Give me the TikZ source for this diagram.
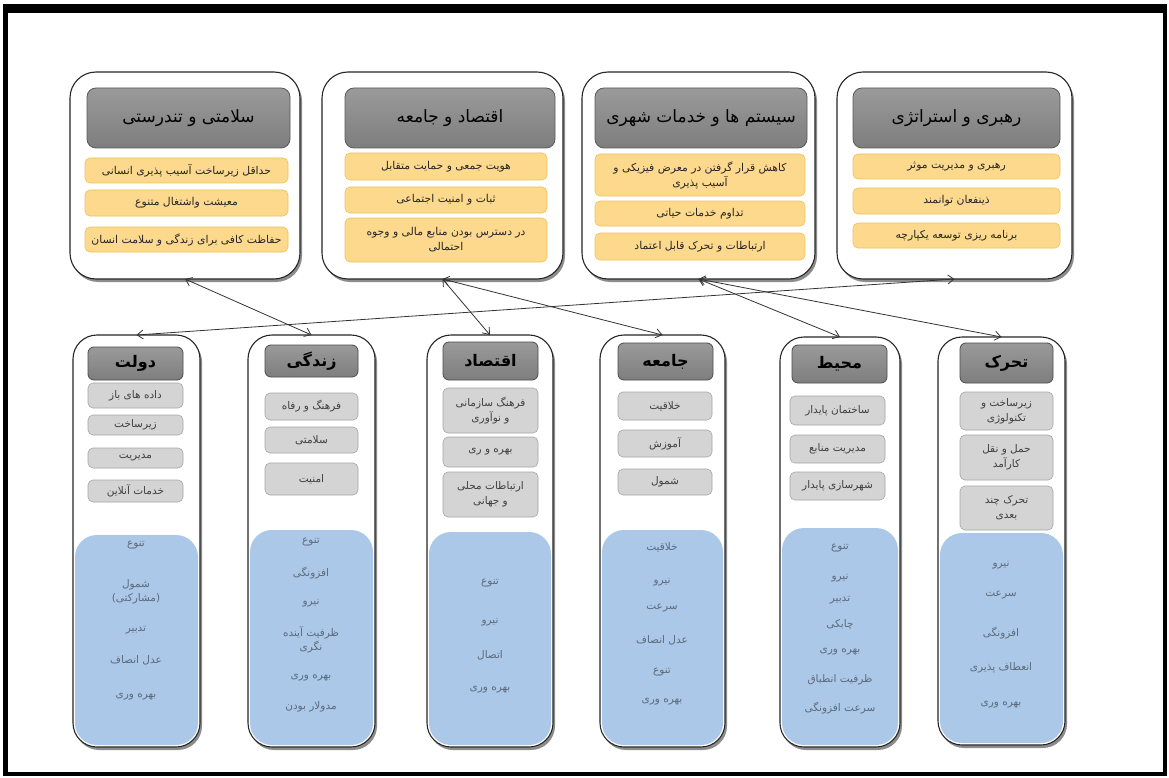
\documentclass[tikz,border=0pt]{standalone}
\usepackage{fontspec}
\usetikzlibrary{shadows,arrows.meta}
\TeXXeTstate=1
\newfontfamily\fa[Script=Arabic]{DejaVu Sans}
\definecolor{hdrA}{HTML}{9A9A9A}
\definecolor{hdrB}{HTML}{7E7E7E}
\definecolor{orgF}{HTML}{FCD98C}
\definecolor{orgD}{HTML}{EEC25A}
\definecolor{gryF}{HTML}{D4D4D4}
\definecolor{gryD}{HTML}{A6A6A6}
\definecolor{bluF}{HTML}{ABC8E8}
\definecolor{bluT}{HTML}{5D6A7C}
\newcommand\fat[1]{\beginR #1\endR}
\newcommand\bx[7]{%
 \pgfmathsetmacro\bxcx{(#2+#4)/2}%
 \pgfmathsetmacro\bxcy{(#3+#5)/2}%
 \pgfmathsetmacro\bxw{#4-#2}%
 \pgfmathsetmacro\bxh{#5-#3}%
 \node[#6, minimum width=\bxw pt, minimum height=\bxh pt] (#1) at (\bxcx,\bxcy) {#7};}
\tikzset{
 base/.style={inner sep=0pt, outer sep=0pt, align=center},
 topbox/.style={base, draw=black!85, line width=1.1pt, fill=white, rounded corners=26pt,
   drop shadow={shadow xshift=2pt, shadow yshift=-3pt, fill=black, opacity=0.45}},
 botbox/.style={base, draw=black!85, line width=1.1pt, fill=white, rounded corners=24pt,
   drop shadow={shadow xshift=2pt, shadow yshift=-3pt, fill=black, opacity=0.45}},
 tophdr/.style={base, draw=black!65, line width=0.8pt, top color=hdrA, bottom color=hdrB,
   rounded corners=9pt, font=\fa\fontsize{17}{20}\selectfont},
 bothdr/.style={base, draw=black!70, line width=0.8pt, top color=hdrA, bottom color=hdrB,
   rounded corners=6pt, font=\fa\bfseries\fontsize{16}{19}\selectfont},
 orgitem/.style={base, draw=orgD, line width=0.6pt, fill=orgF, rounded corners=5pt,
   text=black!85, font=\fa\fontsize{10.8}{15}\selectfont},
 gryitem/.style={base, draw=gryD, line width=0.6pt, fill=gryF, rounded corners=5pt,
   text=black!75, font=\fa\fontsize{10.5}{15}\selectfont},
 bluarea/.style={base, fill=bluF, rounded corners=22pt},
 bt/.style={inner sep=0pt, text=bluT, font=\fa\fontsize{10.5}{14}\selectfont, align=center},
 conn/.style={{Straight Barb[length=6pt,width=9pt]}-{Straight Barb[length=6pt,width=9pt]},
   draw=black!80, line width=0.8pt}
}
\begin{document}
\begin{tikzpicture}[x=1pt,y=-1pt]
\useasboundingbox (0,0) rectangle (1169,778);
\fill[white] (0,0) rectangle (1169,778);
% frame
\fill[black] (3,4) rectangle (1167,13);
\fill[black] (3,4) rectangle (8,776);
\fill[black] (1163,4) rectangle (1167,776);
\fill[black] (3,772) rectangle (1167,776);

% ---------- top boxes ----------
\bx{t1}{70}{72}{300}{279}{topbox}{}
\bx{t1h}{87}{88}{290}{148}{tophdr}{\fat{سلامتی و تندرستی}}
\bx{t1a}{85}{158}{288}{183}{orgitem}{\fat{حداقل زیرساخت آسیب پذیری انسانی}}
\bx{t1b}{85}{190}{288}{216}{orgitem}{\fat{معیشت واشتغال متنوع}}
\bx{t1c}{85}{227}{288}{252}{orgitem}{\fat{حفاظت کافی برای زندگی و سلامت انسان}}

\bx{t2}{322}{72}{563}{279}{topbox}{}
\bx{t2h}{345}{88}{555}{148}{tophdr}{\fat{اقتصاد و جامعه}}
\bx{t2a}{345}{153}{547}{180}{orgitem}{\fat{هویت جمعی و حمایت متقابل}}
\bx{t2b}{345}{187}{547}{213}{orgitem}{\fat{ثبات و امنیت اجتماعی}}
\bx{t2c}{345}{218}{547}{262}{orgitem}{\fat{در دسترس بودن منابع مالی و وجوه}\\\fat{احتمالی}}

\bx{t3}{582}{72}{815}{279}{topbox}{}
\bx{t3h}{595}{88}{807}{148}{tophdr}{\fat{سیستم ها و خدمات شهری}}
\bx{t3a}{595}{154}{805}{196}{orgitem}{\fat{کاهش قرار گرفتن در معرض فیزیکی و}\\\fat{آسیب پذیری}}
\bx{t3b}{595}{201}{805}{226}{orgitem}{\fat{تداوم خدمات حیاتی}}
\bx{t3c}{595}{233}{805}{260}{orgitem}{\fat{ارتباطات و تحرک قابل اعتماد}}

\bx{t4}{837}{72}{1072}{279}{topbox}{}
\bx{t4h}{853}{88}{1060}{148}{tophdr}{\fat{رهبری و استراتژی}}
\bx{t4a}{853}{154}{1060}{179}{orgitem}{\fat{رهبری و مدیریت موثر}}
\bx{t4b}{853}{188}{1060}{214}{orgitem}{\fat{ذینفعان توانمند}}
\bx{t4c}{853}{223}{1060}{248}{orgitem}{\fat{برنامه ریزی توسعه یکپارچه}}

% ---------- bottom columns ----------
% 1
\bx{c1}{73}{335}{200}{747}{botbox}{}
\bx{c1bl}{75}{535}{198}{745}{bluarea}{}
\bx{c1h}{88}{347}{183}{380}{bothdr}{\fat{دولت}}
\bx{c1a}{88}{383}{183}{408}{gryitem}{\fat{داده های باز}}
\bx{c1b}{88}{415}{183}{435}{gryitem}{\fat{زیرساخت}}
\bx{c1c}{88}{448}{183}{468}{gryitem}{\fat{مدیریت}}
\bx{c1d}{88}{480}{183}{502}{gryitem}{\fat{خدمات آنلاین}}
\node[bt] (b1a) at (136,545) {\fat{تنوع}};
\node[bt] (b1b) at (136,592) {\fat{شمول}\\\fat{(مشارکتی)}};
\node[bt] (b1c) at (136,630) {\fat{تدبیر}};
\node[bt] (b1d) at (136,660) {\fat{عدل انصاف}};
\node[bt] (b1e) at (136,697) {\fat{بهره وری}};
% 2
\bx{c2}{248}{335}{375}{747}{botbox}{}
\bx{c2bl}{250}{530}{373}{745}{bluarea}{}
\bx{c2h}{265}{345}{358}{377}{bothdr}{\fat{زندگی}}
\bx{c2a}{265}{393}{358}{420}{gryitem}{\fat{فرهنگ و رفاه}}
\bx{c2b}{265}{427}{358}{453}{gryitem}{\fat{سلامتی}}
\bx{c2c}{265}{463}{358}{495}{gryitem}{\fat{امنیت}}
\node[bt] (b2a) at (311,542) {\fat{تنوع}};
\node[bt] (b2b) at (311,573) {\fat{افزونگی}};
\node[bt] (b2c) at (311,603) {\fat{نیرو}};
\node[bt] (b2d) at (311,640) {\fat{ظرفیت آینده}\\\fat{نگری}};
\node[bt] (b2e) at (311,678) {\fat{بهره وری}};
\node[bt] (b2f) at (311,707) {\fat{مدولار بودن}};
% 3
\bx{c3}{427}{335}{553}{747}{botbox}{}
\bx{c3bl}{429}{532}{551}{745}{bluarea}{}
\bx{c3h}{443}{342}{538}{380}{bothdr}{\fat{اقتصاد}}
\bx{c3a}{443}{388}{538}{433}{gryitem}{\fat{فرهنگ سازمانی}\\\fat{و نوآوری}}
\bx{c3b}{443}{437}{538}{467}{gryitem}{\fat{بهره و ری}}
\bx{c3c}{443}{472}{538}{517}{gryitem}{\fat{ارتباطات محلی}\\\fat{و جهانی}}
\node[bt] (b3a) at (490,583) {\fat{تنوع}};
\node[bt] (b3b) at (490,622) {\fat{نیرو}};
\node[bt] (b3c) at (490,655) {\fat{اتصال}};
\node[bt] (b3d) at (490,690) {\fat{بهره وری}};
% 4
\bx{c4}{600}{335}{725}{747}{botbox}{}
\bx{c4bl}{602}{530}{723}{745}{bluarea}{}
\bx{c4h}{618}{343}{713}{380}{bothdr}{\fat{جامعه}}
\bx{c4a}{618}{392}{712}{420}{gryitem}{\fat{خلاقیت}}
\bx{c4b}{618}{430}{712}{457}{gryitem}{\fat{آموزش}}
\bx{c4c}{618}{469}{712}{495}{gryitem}{\fat{شمول}}
\node[bt] (b4a) at (662,547) {\fat{خلاقیت}};
\node[bt] (b4b) at (662,582) {\fat{نیرو}};
\node[bt] (b4c) at (662,608) {\fat{سرعت}};
\node[bt] (b4d) at (662,640) {\fat{عدل انصاف}};
\node[bt] (b4e) at (662,672) {\fat{تنوع}};
\node[bt] (b4f) at (662,702) {\fat{بهره وری}};
% 5
\bx{c5}{780}{337}{900}{747}{botbox}{}
\bx{c5bl}{782}{528}{898}{745}{bluarea}{}
\bx{c5h}{792}{345}{887}{383}{bothdr}{\fat{محیط}}
\bx{c5a}{790}{396}{885}{425}{gryitem}{\fat{ساختمان پایدار}}
\bx{c5b}{790}{435}{885}{463}{gryitem}{\fat{مدیریت منابع}}
\bx{c5c}{790}{472}{885}{500}{gryitem}{\fat{شهرسازی پایدار}}
\node[bt] (b5a) at (840,548) {\fat{تنوع}};
\node[bt] (b5b) at (840,578) {\fat{نیرو}};
\node[bt] (b5c) at (840,600) {\fat{تدبیر}};
\node[bt] (b5d) at (840,625) {\fat{چابکی}};
\node[bt] (b5e) at (840,652) {\fat{بهره وری}};
\node[bt] (b5f) at (840,680) {\fat{ظرفیت انطباق}};
\node[bt] (b5g) at (840,708) {\fat{سرعت افزونگی}};
% 6
\bx{c6}{938}{337}{1065}{745}{botbox}{}
\bx{c6bl}{940}{533}{1063}{743}{bluarea}{}
\bx{c6h}{960}{343}{1053}{383}{bothdr}{\fat{تحرک}}
\bx{c6a}{960}{392}{1053}{430}{gryitem}{\fat{زیرساخت و}\\\fat{تکنولوژی}}
\bx{c6b}{960}{435}{1053}{480}{gryitem}{\fat{حمل و نقل}\\\fat{کارآمد}}
\bx{c6c}{960}{486}{1053}{530}{gryitem}{\fat{تحرک چند}\\\fat{بعدی}}
\node[bt] (b6a) at (1001,565) {\fat{نیرو}};
\node[bt] (b6b) at (1001,595) {\fat{سرعت}};
\node[bt] (b6c) at (1001,633) {\fat{افزونگی}};
\node[bt] (b6d) at (1001,668) {\fat{انعطاف پذیری}};
\node[bt] (b6e) at (1001,705) {\fat{بهره وری}};

% ---------- connectors ----------
\draw[conn] (t1.south) -- (c2.north);
\draw[conn] (t2.south) -- (c3.north);
\draw[conn] (t2.south) -- (c4.north);
\draw[conn] (t3.south) -- (c5.north);
\draw[conn] (t3.south) -- (c6.north);
\draw[conn] (t4.south) -- (c1.north);
\end{tikzpicture}
\end{document}
